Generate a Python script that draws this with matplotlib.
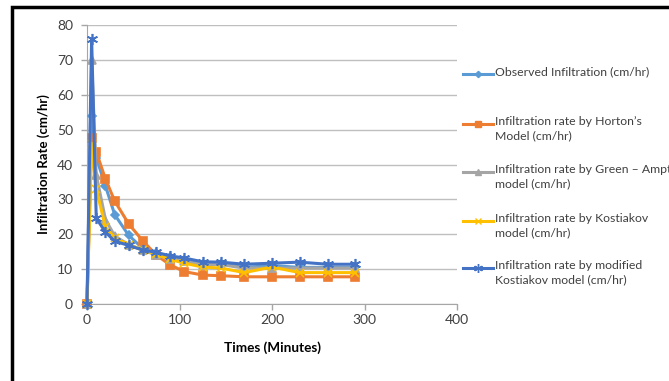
import matplotlib.pyplot as plt
from matplotlib.lines import Line2D
from matplotlib.patches import Rectangle

plt.rcParams['font.family'] = ['Lato', 'DejaVu Sans']

# elapsed time (minutes) and infiltration rates (cm/hr)
times = [0, 5, 10, 20, 30, 45, 60, 75, 90, 105, 125, 145, 170, 200, 230, 260, 290]
observed = [0, 54, 42, 33.8, 25.6, 19.7, 16.0, 14.5, 13.5, 12.5, 11.5, 11.5, 10.5, 11.0, 10.5, 10.5, 10.5]
horton = [0, 47.5, 43.6, 35.8, 29.5, 23.0, 18.2, 14.0, 11.2, 9.3, 8.3, 8.1, 7.8, 7.8, 7.8, 7.8, 7.8]
green_ampt = [0, 70, 37, 24.2, 19.5, 17.0, 15.5, 14.0, 13.0, 12.2, 11.3, 11.3, 10.3, 10.3, 10.3, 10.3, 10.3]
kostiakov = [0, 46, 33, 22.0, 19.0, 17.0, 15.5, 14.2, 12.8, 11.7, 10.6, 10.3, 9.0, 10.6, 9.0, 9.0, 9.0]
mod_kostiakov = [0, 76, 24.6, 20.6, 18.0, 16.8, 15.5, 14.8, 13.8, 13.2, 12.1, 12.0, 11.4, 11.7, 12.0, 11.4, 11.4]

series = [
    (observed, '#5B9BD5', 'D', 4, 'Observed Infiltration (cm/hr)'),
    (horton, '#ED7D31', 's', 6, 'Infiltration rate by Horton\u2019s\nModel (cm/hr)'),
    (green_ampt, '#A5A5A5', '^', 6, 'Infiltration rate by Green \u2013 Ampt\nmodel (cm/hr)'),
    (kostiakov, '#FFC000', 'x', 6, 'Infiltration rate by Kostiakov\nmodel (cm/hr)'),
    (mod_kostiakov, '#4472C4', (6, 2, 0), 8, 'Infiltration rate by modified\nKostiakov model (cm/hr)'),
]

fig = plt.figure(figsize=(6.69, 3.81), dpi=100)
ax = fig.add_axes([87 / 669, 1 - 304 / 381, 370 / 669, 279 / 381])

for vals, color, marker, ms, label in series:
    ax.plot(times, vals, color=color, lw=2.2, marker=marker, ms=ms,
            mew=1.2, mec=color, mfc=color, clip_on=False, zorder=3)

ax.set_xlim(0, 400)
ax.set_ylim(0, 80)
ax.set_xticks(range(0, 401, 100))
ax.set_yticks(range(0, 81, 10))
ax.yaxis.grid(True, color='#BFBFBF', lw=1)
ax.set_axisbelow(True)
for side in ['top', 'right']:
    ax.spines[side].set_visible(False)
for side in ['left', 'bottom']:
    ax.spines[side].set_color('#A6A6A6')
ax.tick_params(axis='both', colors='#A6A6A6', labelcolor='#404040',
               labelsize=10, length=4, width=1)
ax.tick_params(axis='y', pad=6)
ax.set_xlabel('Times (Minutes)', fontsize=9.8, fontweight='bold', labelpad=11)
ax.set_ylabel('Infiltration Rate (cm/hr)', fontsize=9.5, fontweight='bold', labelpad=5)

# legend drawn by hand on the right side
ys = [74, 124, 172, 221, 268]
for (vals, color, marker, ms, label), y in zip(series, ys):
    yf = 1 - y / 381
    fig.add_artist(Line2D([463 / 669, 493 / 669], [yf, yf], color=color, lw=2.2))
    fig.add_artist(Line2D([478 / 669], [yf], color=color, marker=marker,
                          ms=ms * 0.8, mew=1, mec=color, mfc=color))
    fig.text(495 / 669, yf + 8 / 381, label, fontsize=8.8, color='#404040',
             va='top', ha='left', linespacing=1.4)

# outer frame
fig.add_artist(Rectangle((12 / 669, -0.1), 1.2, 1 - 7 / 381 + 0.1,
                         transform=fig.transFigure, fill=False,
                         edgecolor='black', lw=2.5))

fig.savefig('out.png', dpi=100)
